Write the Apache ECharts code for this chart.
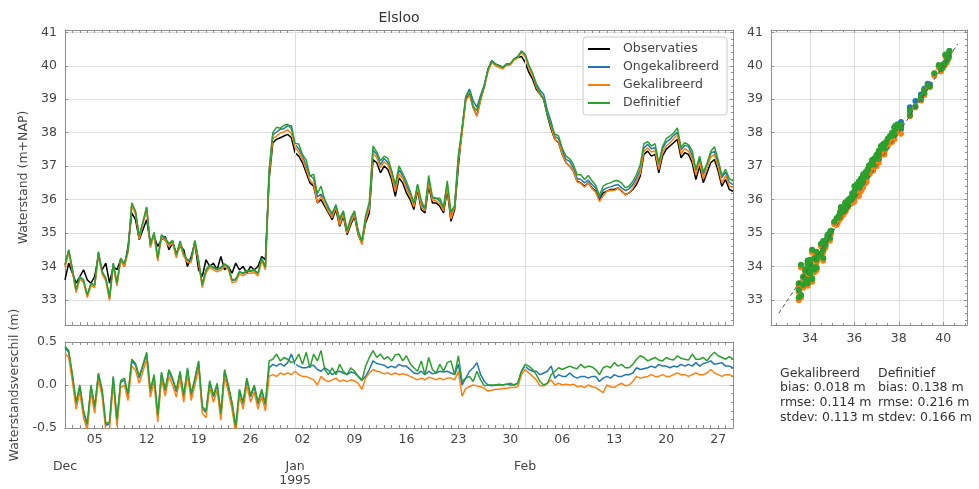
<!DOCTYPE html>
<html>
<head>
<meta charset="utf-8">
<script src="https://cdn.jsdelivr.net/npm/echarts@6/dist/echarts.min.js"></script>
<style>
  html, body { margin: 0; padding: 0; background: #fff; }
  #chart { width: 979px; height: 489px; }
</style>
</head>
<body>
<div id="chart"></div>
<script>
// waterstand Elsloo, 1 dec 1994 - 1 mrt 1995, one value every 12 hours
var stepDays = 0.5;

var obsVals = [
  33.6, 34.1, 33.8, 33.5, 33.7, 33.9, 33.6, 33.5, 33.7, 34.3,
  33.9, 34.1, 33.5, 34.0, 33.9, 34.2, 34.0, 34.6, 35.6, 35.4,
  34.8, 35.1, 35.4, 34.7, 34.9, 34.6, 34.8, 34.9, 34.5, 34.7,
  34.4, 34.6, 34.5, 34.0, 34.3, 34.7, 33.9, 33.7, 34.2, 34.0,
  34.1, 33.9, 34.3, 33.9, 34.0, 33.8, 34.1, 33.9, 34.0, 33.8,
  34.0, 33.9, 34.0, 34.3, 34.2, 36.6, 37.7, 37.8, 37.85, 37.9,
  37.95, 37.85, 37.4, 37.3, 37.1, 36.8, 36.5, 36.4, 35.9, 36.0,
  35.8, 35.6, 35.4, 35.7, 35.2, 35.5, 34.95, 35.25, 35.5, 34.95,
  34.7, 35.3, 35.6, 37.2, 37.1, 36.8, 37.0, 36.9, 36.6, 36.1,
  36.65, 36.5, 36.2, 36.0, 35.7, 36.3, 35.7, 35.6, 36.4, 35.9,
  35.9, 35.8, 35.6, 36.3, 35.35, 35.7, 37.0, 38.1, 39.0, 39.15,
  38.75, 38.5, 39.0, 39.4, 39.9, 40.15, 40.05, 40.0, 39.95, 40.05,
  40.05, 40.2, 40.25, 40.28, 40.1, 39.8, 39.6, 39.3, 39.15, 39.0,
  38.5, 38.1, 37.8, 37.7, 37.35, 37.1, 37.0, 36.85, 36.55, 36.5,
  36.4, 36.5, 36.35, 36.25, 36.0, 36.2, 36.25, 36.3, 36.3, 36.35,
  36.25, 36.15, 36.2, 36.3, 36.45, 36.7, 37.35, 37.45, 37.3, 37.35,
  36.8, 37.3, 37.5, 37.6, 37.7, 37.8, 37.25, 37.4, 37.35, 37.1,
  36.6, 37.0, 36.5, 36.8, 37.1, 37.2, 36.85, 36.4, 36.6, 36.3,
  36.25
];

// model minus observation (m)
var diffOng = [
  0.43, 0.38, 0.10, -0.22, -0.02, -0.32, -0.47, -0.02, -0.27, 0.12,
  -0.07, -0.47, -0.45, 0.08, -0.42, 0.03, 0.06, -0.12, 0.28, 0.23,
  0.08, 0.22, 0.36, -0.08, 0.10, -0.37, 0.13, -0.07, 0.16, 0.06,
  -0.08, 0.14, -0.14, 0.18, -0.12, 0.06, 0.26, -0.27, -0.32, 0.03,
  -0.14, 0.00, -0.35, 0.16, -0.02, -0.22, -0.50, -0.07, -0.22, 0.06,
  -0.14, -0.02, -0.22, -0.07, -0.24,
  0.2, 0.24, 0.22, 0.25, 0.22, 0.26, 0.36, 0.24, 0.22, 0.2,
  0.2, 0.22, 0.23, 0.18, 0.16, 0.2, 0.17, 0.12, 0.15, 0.16,
  0.14, 0.12, 0.15, 0.14, 0.1, 0.06, 0.1, 0.18, 0.28, 0.25,
  0.24, 0.23, 0.2, 0.22, 0.2, 0.24, 0.22, 0.22, 0.18, 0.14,
  0.13, 0.16, 0.12, 0.16, 0.13, 0.14, 0.16, 0.15, 0.16, 0.14,
  0.12, 0.24, 0.0, 0.08, 0.16, 0.2, 0.26, 0.12, 0.04, 0.0,
  -0.01, 0.0, 0.0, 0.0, 0.01, 0.0, 0.0, 0.02, 0.16, 0.22,
  0.18, 0.16, 0.16, 0.12, 0.14, 0.16, 0.22, 0.08, 0.12, 0.1,
  0.1, 0.14, 0.1, 0.08, 0.1, 0.1, 0.08, 0.1, 0.1, 0.04,
  0.08, 0.1, 0.08, 0.12, 0.1, 0.1, 0.12, 0.12, 0.14, 0.2,
  0.18, 0.19, 0.2, 0.22, 0.2, 0.24, 0.22, 0.22, 0.2, 0.22,
  0.21, 0.24, 0.22, 0.24, 0.22, 0.26, 0.22, 0.25, 0.26, 0.28,
  0.24, 0.25, 0.26, 0.22, 0.22, 0.2
];

var diffGek = [
  0.37, 0.32, 0.04, -0.28, -0.08, -0.38, -0.53, -0.08, -0.33, 0.06,
  -0.13, -0.53, -0.51, 0.02, -0.48, -0.03, 0.00, -0.18, 0.22, 0.17,
  0.02, 0.16, 0.30, -0.14, 0.04, -0.43, 0.07, -0.13, 0.10, 0.00,
  -0.14, 0.08, -0.20, 0.12, -0.18, 0.00, 0.20, -0.33, -0.38, -0.03,
  -0.20, -0.06, -0.41, 0.10, -0.08, -0.28, -0.56, -0.13, -0.28, 0.00,
  -0.20, -0.08, -0.28, -0.13, -0.30,
  0.1, 0.12, 0.1, 0.14, 0.12, 0.14, 0.12, 0.16, 0.12, 0.1,
  0.1, 0.08, 0.06, 0.0, 0.1, 0.06, 0.04, 0.06, 0.08, 0.04,
  0.06, 0.04, 0.06, 0.05, 0.02, -0.05, 0.08, 0.14, 0.18, 0.16,
  0.15, 0.13, 0.14, 0.12, 0.14, 0.12, 0.13, 0.12, 0.1, 0.08,
  0.06, 0.08, 0.06, 0.09, 0.08, 0.06, 0.08, 0.06, 0.08, 0.08,
  0.06, 0.16, -0.13, -0.04, -0.02, 0.0, -0.01, -0.02, -0.04, -0.07,
  -0.06, -0.05, -0.05, -0.04, -0.04, -0.03, -0.03, -0.02, 0.12, 0.18,
  0.14, 0.1, 0.06, -0.01, -0.01, 0.02, 0.06, 0.0, 0.02, 0.0,
  0.01, 0.0, 0.01, -0.02, -0.01, -0.03, 0.0, -0.02, -0.03, -0.06,
  -0.09, 0.0, -0.02, -0.03, 0.0, 0.02, -0.01, 0.0, 0.04, 0.1,
  0.08, 0.09, 0.1, 0.12, 0.1, 0.1, 0.12, 0.1, 0.1, 0.12,
  0.14, 0.12, 0.12, 0.1, 0.12, 0.14, 0.12, 0.12, 0.14, 0.18,
  0.14, 0.12, 0.1, 0.12, 0.12, 0.1
];

var diffDef = [
  0.45, 0.40, 0.12, -0.2, 0.0, -0.3, -0.45, 0.0, -0.25, 0.14,
  -0.05, -0.45, -0.43, 0.1, -0.4, 0.05, 0.08, -0.1, 0.3, 0.25,
  0.1, 0.24, 0.38, -0.06, 0.12, -0.35, 0.15, -0.05, 0.18, 0.08,
  -0.06, 0.16, -0.12, 0.2, -0.1, 0.08, 0.28, -0.25, -0.3, 0.05,
  -0.12, 0.02, -0.33, 0.18, 0.0, -0.2, -0.48, -0.05, -0.2, 0.08,
  -0.12, 0.0, -0.2, -0.05, -0.22,
  0.28, 0.3, 0.36, 0.28, 0.32, 0.3, 0.26, 0.28, 0.36, 0.24,
  0.38, 0.2, 0.36, 0.28, 0.4, 0.18, 0.12, 0.2, 0.12, 0.24,
  0.16, 0.12, 0.2, 0.16, 0.1, 0.05, 0.22, 0.32, 0.4, 0.32,
  0.36, 0.3, 0.33, 0.28, 0.35, 0.36, 0.28, 0.34, 0.25, 0.2,
  0.16, 0.28, 0.12, 0.32, 0.18, 0.14, 0.24, 0.16, 0.26, 0.28,
  0.12, 0.34, 0.04, 0.08, 0.1, 0.04, 0.16, 0.06, -0.01, 0.0,
  0.0, 0.0, 0.01, 0.0, 0.01, 0.02, 0.0, 0.02, 0.16, 0.24,
  0.22, 0.18, 0.12, 0.04, 0.0, 0.02, 0.12, 0.16, 0.2, 0.18,
  0.2, 0.22, 0.2, 0.19, 0.24, 0.2, 0.22, 0.21, 0.18, 0.12,
  0.2, 0.22, 0.2, 0.26, 0.22, 0.24, 0.2, 0.2, 0.24, 0.3,
  0.34, 0.32, 0.28, 0.3, 0.32, 0.29, 0.28, 0.32, 0.3, 0.29,
  0.34, 0.31, 0.3, 0.29, 0.36, 0.3, 0.3, 0.32, 0.28, 0.34,
  0.38, 0.34, 0.32, 0.3, 0.33, 0.3
];

var seriesNames = ['Observaties', 'Ongekalibreerd', 'Gekalibreerd', 'Definitief'];
var seriesColors = ['#000000', '#1f77b4', '#ff7f0e', '#2ca02c'];

// x axis in days since 1 Dec 1994
var weekDays = [4, 11, 18, 25, 32, 39, 46, 53, 60, 67, 74, 81, 88];
var weekLabels = ['05', '12', '19', '26', '02', '09', '16', '23', '30', '06', '13', '20', '27'];
var monthDays = [0, 31, 62];
var monthLabels = ['Dec', 'Jan\n1995', 'Feb'];
var levelTicks = [33, 34, 35, 36, 37, 38, 39, 40, 41];
var scatterXTicks = [34, 36, 38, 40];
var diagLine = [[32.6, 32.6], [40.65, 40.65]];

var statNames = ['Gekalibreerd', 'Definitief'];
var statBias = ['0.018', '0.138'];
var statRmse = ['0.114', '0.216'];
var statStdev = ['0.113', '0.166'];

var lvlMin = 32.25, lvlMax = 41.07;
var dayMin = 0, dayMax = 90;

function timePairs(vals) {
  return vals.map(function (v, i) { return [i * stepDays, v]; });
}
function addDiff(diff) {
  return obsVals.map(function (v, i) { return Math.round((v + diff[i]) * 1000) / 1000; });
}
function scatterPairs(model) {
  return obsVals.map(function (v, i) { return [v, model[i]]; });
}

var modOng = addDiff(diffOng);
var modGek = addDiff(diffGek);
var modDef = addDiff(diffDef);

var dailyTicks = [];
for (var d = dayMin; d <= dayMax; d++) dailyTicks.push(d);

var FONT = 'DejaVu Sans';
var lineCol = '#8f8f8f';
var textCol = '#444444';
var gridCol = '#dedede';

function frameAxis(grid, pos, min, max, tickVals) {
  var ax = {
    type: 'value', gridIndex: grid, position: pos, min: min, max: max,
    axisLine: { show: true, onZero: false, lineStyle: { color: lineCol, width: 1 } },
    axisTick: { show: true, inside: true, length: 3, lineStyle: { color: lineCol } },
    axisLabel: { show: false },
    splitLine: { show: false }
  };
  if (tickVals) ax.axisTick.customValues = tickVals;
  return ax;
}

var lblStyle = { color: textCol, fontFamily: FONT, fontSize: 12.5 };

var xAxes = [
  frameAxis(0, 'bottom', dayMin, dayMax, dailyTicks),
  frameAxis(0, 'top', dayMin, dayMax, dailyTicks),
  (function () {
    var a = frameAxis(1, 'bottom', dayMin, dayMax, dailyTicks);
    a.axisLabel = Object.assign({
      show: true, margin: 5, customValues: weekDays,
      formatter: function (v) { return weekLabels[weekDays.indexOf(v)]; }
    }, lblStyle);
    return a;
  })(),
  (function () {
    var a = frameAxis(1, 'bottom', dayMin, dayMax, monthDays);
    a.axisLine.show = false;
    a.axisTick.length = 6;
    a.axisLabel = Object.assign({
      show: true, margin: 32, customValues: monthDays, lineHeight: 14,
      formatter: function (v) { return monthLabels[monthDays.indexOf(v)]; }
    }, lblStyle);
    return a;
  })(),
  frameAxis(1, 'top', dayMin, dayMax, dailyTicks),
  (function () {
    var a = frameAxis(2, 'bottom', lvlMin, lvlMax);
    a.splitNumber = 4;
    a.axisTick.customValues = scatterXTicks;
    a.minorTick = { show: true, splitNumber: 4, length: 2, lineStyle: { color: lineCol } };
    a.axisLabel = Object.assign({ show: true, margin: 7, customValues: scatterXTicks }, lblStyle);
    a.splitLine = { show: true, lineStyle: { color: gridCol, width: 1 } };
    return a;
  })(),
  (function () {
    var a = frameAxis(2, 'top', lvlMin, lvlMax);
    a.splitNumber = 4;
    a.minorTick = { show: true, splitNumber: 4, length: 2, lineStyle: { color: lineCol } };
    return a;
  })()
];

function levelAxis(grid, withName) {
  var a = frameAxis(grid, 'left', lvlMin, lvlMax);
  a.splitNumber = 8;
  a.axisTick.customValues = levelTicks;
  a.axisLabel = Object.assign({ show: true, margin: 8, customValues: levelTicks }, lblStyle);
  a.splitLine = { show: true, lineStyle: { color: gridCol, width: 1 } };
  if (withName) {
    a.name = 'Waterstand (m+NAP)';
    a.nameLocation = 'middle';
    a.nameGap = 28;
    a.nameTextStyle = { color: textCol, fontFamily: FONT, fontSize: 12.5 };
  }
  return a;
}
function levelRight(grid) {
  var a = frameAxis(grid, 'right', lvlMin, lvlMax);
  a.splitNumber = 8;
  a.minorTick = { show: true, splitNumber: 5, length: 2, lineStyle: { color: lineCol } };
  return a;
}

var yAxes = [
  levelAxis(0, true),
  levelRight(0),
  (function () {
    var a = frameAxis(1, 'left', -0.5, 0.5);
    a.interval = 0.5;
    a.axisLabel = Object.assign({ show: true, margin: 8, formatter: function (v) { return v.toFixed(1); } }, lblStyle);
    a.splitLine = { show: true, lineStyle: { color: gridCol, width: 1 } };
    a.name = 'Waterstandsverschil (m)';
    a.nameLocation = 'middle';
    a.nameGap = 41;
    a.nameTextStyle = { color: textCol, fontFamily: FONT, fontSize: 12.5 };
    return a;
  })(),
  (function () {
    var a = frameAxis(1, 'right', -0.5, 0.5);
    a.interval = 0.5;
    a.minorTick = { show: true, splitNumber: 5, length: 2, lineStyle: { color: lineCol } };
    return a;
  })(),
  levelAxis(2, false),
  levelRight(2)
];

var monthLines = {
  silent: true, symbol: 'none', label: { show: false },
  lineStyle: { color: gridCol, type: 'solid', width: 1 },
  data: [{ xAxis: monthDays[1] }, { xAxis: monthDays[2] }],
  animation: false
};

function tsLine(idx, data, xi, yi, marks) {
  var s = {
    name: seriesNames[idx], type: 'line', xAxisIndex: xi, yAxisIndex: yi,
    data: data, showSymbol: false, symbol: 'none', color: seriesColors[idx],
    lineStyle: { width: 1.5, color: seriesColors[idx] }, z: 3 + idx
  };
  if (marks) s.markLine = marks;
  return s;
}
function scat(idx, data) {
  return {
    name: seriesNames[idx], type: 'scatter', xAxisIndex: 5, yAxisIndex: 4,
    data: data, symbolSize: 6, color: seriesColors[idx],
    itemStyle: { color: seriesColors[idx], opacity: 1 }, z: 3 + idx
  };
}

var series = [
  tsLine(0, timePairs(obsVals), 0, 0, monthLines),
  tsLine(1, timePairs(modOng), 0, 0),
  tsLine(2, timePairs(modGek), 0, 0),
  tsLine(3, timePairs(modDef), 0, 0),
  tsLine(1, timePairs(diffOng), 2, 2, monthLines),
  tsLine(2, timePairs(diffGek), 2, 2),
  tsLine(3, timePairs(diffDef), 2, 2),
  scat(1, scatterPairs(modOng)),
  scat(2, scatterPairs(modGek)),
  scat(3, scatterPairs(modDef)),
  {
    type: 'line', xAxisIndex: 5, yAxisIndex: 4, data: diagLine, symbol: 'none',
    lineStyle: { color: '#555', width: 1, type: [4, 3] }, z: 10, silent: true
  }
];

function statBlock(k) {
  return statNames[k] + '\nbias: ' + statBias[k] + ' m\nrmse: ' + statRmse[k] + ' m\nstdev: ' + statStdev[k] + ' m';
}

var option = {
  animation: false,
  backgroundColor: '#ffffff',
  textStyle: { fontFamily: FONT },
  grid: [
    { left: 65, top: 30, width: 668, height: 295 },
    { left: 65, top: 342, width: 668, height: 86 },
    { left: 771, top: 30, width: 196, height: 295 }
  ],
  legend: {
    data: seriesNames, orient: 'vertical', left: 583, top: 37,
    padding: [5, 8, 5, 5], itemGap: 4, itemWidth: 22, itemHeight: 2, icon: 'rect',
    backgroundColor: '#ffffff', borderColor: '#cccccc', borderWidth: 1, borderRadius: 3,
    textStyle: { color: textCol, fontFamily: FONT, fontSize: 12.5, lineHeight: 14, padding: [0, 0, 0, 8] },
    selectedMode: false
  },
  xAxis: xAxes,
  yAxis: yAxes,
  series: series,
  graphic: [
    { type: 'text', x: 399, y: 18, style: { text: 'Elsloo', align: 'center', verticalAlign: 'middle', fill: '#333', font: '14px "DejaVu Sans"' } },
    { type: 'text', x: 780, y: 366, style: { text: statBlock(0), fill: '#333', font: '12.5px "DejaVu Sans"', lineHeight: 14.7 } },
    { type: 'text', x: 878, y: 366, style: { text: statBlock(1), fill: '#333', font: '12.5px "DejaVu Sans"', lineHeight: 14.7 } }
  ]
};

var chart = echarts.init(document.getElementById('chart'), null, { renderer: 'canvas' });
chart.setOption(option);
</script>
</body>
</html>
